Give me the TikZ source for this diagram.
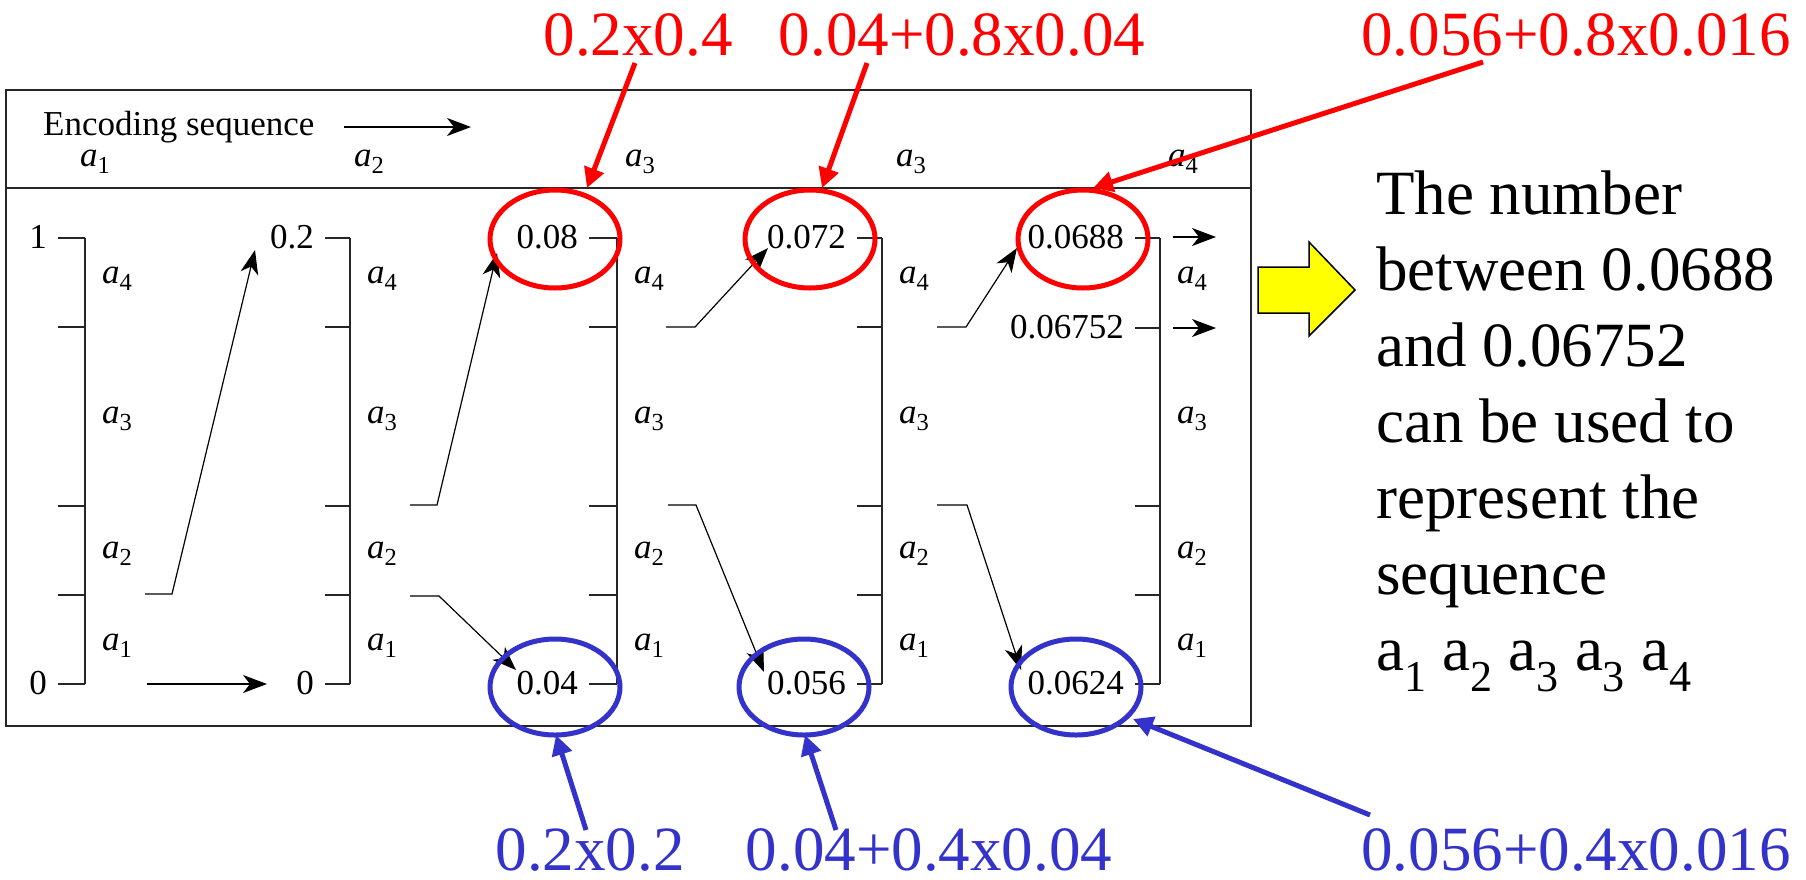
\documentclass[tikz,border=0pt]{standalone}
\usepackage{fontspec}
\setmainfont{Liberation Serif}
\newfontfamily\timesfont{Liberation Serif}
\usetikzlibrary{arrows.meta}
\definecolor{myred}{RGB}{255,0,0}
\definecolor{myblue}{RGB}{51,51,204}
\definecolor{myyellow}{RGB}{255,255,0}
\newcommand\asym[1]{\textit{a}\textsubscript{#1}}
\begin{document}
\begin{tikzpicture}[x=1pt,y=-1pt,
  small/.style={font=\timesfont\fontsize{35}{40}\selectfont, inner sep=0pt},
  big/.style={font=\timesfont\fontsize{63}{76}\selectfont, inner sep=0pt},
  frame/.style={line width=1.8pt, draw=black!85},
  tickline/.style={line width=1.8pt, draw=black!85},
  flow/.style={line width=1.2pt, -{Stealth[length=24pt,width=18pt,inset=7pt]}},
  redarr/.style={line width=5pt, draw=myred, -{Triangle[length=20pt,width=20pt]}},
  bluearr/.style={line width=5pt, draw=myblue, -{Triangle[length=20pt,width=20pt]}},
  redring/.style={draw=myred, line width=5pt},
  bluering/.style={draw=myblue, line width=5pt},
  redtxt/.style={big, text=myred, anchor=base},
  bluetxt/.style={big, text=myblue, anchor=base},
  val/.style={small, anchor=base east},
  sym/.style={small, anchor=base west},
]
\useasboundingbox (0,0) rectangle (1806,879);
% frame
\draw[frame] (6,90) rectangle (1251,726);
\draw[frame] (6,188) -- (1251,188);
\node[small, anchor=base west] (enc) at (43,135) {Encoding sequence};
\coordinate (encA) at (344,127);
\coordinate (encB) at (471,127);
\draw[flow] (encA) -- (encB);
% header symbols
\node[sym] (h1) at (80,166) {\asym{1}};
\node[sym] (h2) at (354,166) {\asym{2}};
\node[sym] (h3) at (625,166) {\asym{3}};
\node[sym] (h4) at (896,166) {\asym{3}};
\node[sym] (h5) at (1168,166) {\asym{4}};
% columns 1-4
\foreach \c/\v/\t in {1/85/58, 2/350/325, 3/617/589, 4/882/857}{
  \draw[tickline] (\v,238) -- (\v,684);
  \foreach \r in {238,327,506,595,684}{
    \draw[tickline] (\t,\r) -- (\v,\r);
    \coordinate (c\c r\r) at (\t,\r);
  }
  \node[sym] (l\c a4) at (\v+17,283) {\asym{4}};
  \node[sym] (l\c a3) at (\v+17,423) {\asym{3}};
  \node[sym] (l\c a2) at (\v+17,558) {\asym{2}};
  \node[sym] (l\c a1) at (\v+17,650) {\asym{1}};
}
% column 5
\draw[tickline] (1160,238) -- (1160,684);
\foreach \r in {238,328,506,595,684}{
  \draw[tickline] (1135,\r) -- (1160,\r);
}
\node[sym] (l5a4) at (1177,283) {\asym{4}};
\node[sym] (l5a3) at (1177,423) {\asym{3}};
\node[sym] (l5a2) at (1177,558) {\asym{2}};
\node[sym] (l5a1) at (1177,650) {\asym{1}};
\coordinate (o1a) at (1173,237); \coordinate (o1b) at (1216,237);
\coordinate (o2a) at (1173,328); \coordinate (o2b) at (1216,328);
\draw[flow] (o1a) -- (o1b);
\draw[flow] (o2a) -- (o2b);
% values
\node[val] (v1) at (47,248) {1};
\node[val] (v0) at (47,694) {0};
\node[val] (v02) at (314,248) {0.2};
\node[val] (v00) at (314,694) {0};
\node[val] (v008) at (578,248) {0.08};
\node[val] (v004) at (578,694) {0.04};
\node[val] (v0072) at (846,248) {0.072};
\node[val] (v0056) at (846,694) {0.056};
\node[val] (v0688) at (1124,248) {0.0688};
\node[val] (v6752) at (1124,338) {0.06752};
\node[val] (v0624) at (1124,694) {0.0624};
% flow arrows
\coordinate (A0) at (145,594); \coordinate (A1) at (172,594); \coordinate (A2) at (255,250);
\draw[flow] (A0) -- (A1) -- (A2);
\coordinate (B0) at (147,684); \coordinate (B1) at (267,684);
\draw[flow] (B0) -- (B1);
\coordinate (C0) at (410,505); \coordinate (C1) at (437,505); \coordinate (C2) at (497,253);
\draw[flow] (C0) -- (C1) -- (C2);
\coordinate (D0) at (410,596); \coordinate (D1) at (439,596); \coordinate (D2) at (516,670);
\draw[flow] (D0) -- (D1) -- (D2);
\coordinate (E0) at (666,327); \coordinate (E1) at (695,327); \coordinate (E2) at (768,248);
\draw[flow] (E0) -- (E1) -- (E2);
\coordinate (F0) at (668,505); \coordinate (F1) at (696,505); \coordinate (F2) at (764,672);
\draw[flow] (F0) -- (F1) -- (F2);
\coordinate (G0) at (937,327); \coordinate (G1) at (966,327); \coordinate (G2) at (1017,248);
\draw[flow] (G0) -- (G1) -- (G2);
\coordinate (H0) at (937,505); \coordinate (H1) at (967,505); \coordinate (H2) at (1021,670);
\draw[flow] (H0) -- (H1) -- (H2);
% rings
\draw[redring] (555,239) ellipse [x radius=65, y radius=49];
\draw[redring] (810,239) ellipse [x radius=65, y radius=49];
\draw[redring] (1083,239) ellipse [x radius=65, y radius=49];
\draw[bluering] (555,687) ellipse [x radius=65, y radius=48];
\draw[bluering] (804,687) ellipse [x radius=65, y radius=48];
\draw[bluering] (1076,687) ellipse [x radius=65, y radius=48];
% red labels
\node[redtxt] (r1) at (638,55) {0.2x0.4};
\node[redtxt] (r2) at (962,55) {0.04+0.8x0.04};
\node[redtxt] (r3) at (1576,55) {0.056+0.8x0.016};
\coordinate (rt1) at (587,188); \coordinate (rt2) at (822,188); \coordinate (rt3) at (1093,188);
\draw[redarr] (635,63) -- (rt1);
\draw[redarr] (867,63) -- (rt2);
\draw[redarr] (1483,62) -- (rt3);
% blue labels
\node[bluetxt] (b1) at (590,870) {0.2x0.2};
\node[bluetxt] (b2) at (929,870) {0.04+0.4x0.04};
\node[bluetxt] (b3) at (1576,870) {0.056+0.4x0.016};
\coordinate (bt1) at (556,735); \coordinate (bt2) at (805,735); \coordinate (bt3) at (1133,719);
\draw[bluearr] (586,830) -- (bt1);
\draw[bluearr] (836,830) -- (bt2);
\draw[bluearr] (1370,815) -- (bt3);
% yellow arrow
\draw[fill=myyellow, line width=1.5pt] (1258,267) -- (1309,267) -- (1309,242) -- (1355,290) -- (1309,336) -- (1309,313) -- (1258,313) -- cycle;
% explanation
\node[big, anchor=north west, align=left] (expl) at (1376,171) {The number\\between 0.0688\\and 0.06752\\can be used to\\represent the\\sequence\\a\textsubscript{1} a\textsubscript{2} a\textsubscript{3} a\textsubscript{3} a\textsubscript{4}};
\end{tikzpicture}
\end{document}
